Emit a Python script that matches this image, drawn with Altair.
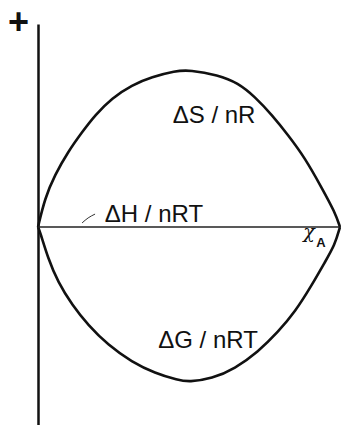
import altair as alt
import pandas as pd

# Mole fraction of A and the mixing functions (dimensionless)
x_s = [0, 0.023, 0.056, 0.099, 0.146, 0.189, 0.245, 0.311, 0.377, 0.454, 0.503,
       0.596, 0.662, 0.719, 0.775, 0.828, 0.884, 0.940, 0.983, 1.0]
ds_nr = [0, 0.128, 0.230, 0.331, 0.419, 0.494, 0.569, 0.627, 0.662, 0.689, 0.693,
         0.671, 0.636, 0.574, 0.494, 0.406, 0.305, 0.172, 0.066, 0]

x_g = [0, 0.007, 0.033, 0.066, 0.113, 0.166, 0.232, 0.311, 0.387, 0.464, 0.500,
       0.576, 0.652, 0.728, 0.795, 0.851, 0.907, 0.950, 0.983, 1.0]
dg_nrt = [0, -0.022, -0.137, -0.243, -0.344, -0.433, -0.521, -0.596, -0.645, -0.676, -0.684,
          -0.670, -0.625, -0.552, -0.463, -0.375, -0.256, -0.155, -0.079, 0]

# Enthalpy of mixing is zero for an ideal solution
x_h = [0, 1.0]
dh_nrt = [0, 0]

labels = ["ΔS / nR", "ΔH / nRT", "ΔG / nRT"]
label_x = [0.583, 0.384, 0.563]
label_y = [0.459, 0.022, -0.534]

Y_DOMAIN = [-0.874, 0.896]
FONT = "Liberation Sans"

xs = alt.Scale(domain=[0, 1], nice=False, zero=False)
ys = alt.Scale(domain=Y_DOMAIN, nice=False, zero=False)

curves = pd.DataFrame({
    "x": x_s + x_g,
    "y": ds_nr + dg_nrt,
    "curve": ["S"] * len(x_s) + ["G"] * len(x_g),
})

base_y_axis = alt.Axis(
    domain=True, domainColor="#111", domainWidth=2.5, ticks=False, labels=False,
    grid=False, title="+", titleAngle=0, titleX=-20, titleY=-2,
    titleFontSize=36, titleFontWeight="bold", titleAlign="center",
    titleBaseline="middle", titleColor="#111", titleFont=FONT,
)

lines = alt.Chart(curves).mark_line(
    color="#111", strokeWidth=2.6, interpolate="basis", clip=False
).encode(
    x=alt.X("x:Q", scale=xs, axis=None),
    y=alt.Y("y:Q", scale=ys, axis=base_y_axis),
    detail="curve:N",
)

hline = alt.Chart(pd.DataFrame({"x": x_h, "y": dh_nrt})).mark_line(
    color="#222", strokeWidth=1.4
).encode(x=alt.X("x:Q", scale=xs), y=alt.Y("y:Q", scale=ys))

text = alt.Chart(pd.DataFrame({"t": labels, "x": label_x, "y": label_y})).mark_text(
    font=FONT, fontSize=24, color="#111", align="center", baseline="alphabetic"
).encode(x=alt.X("x:Q", scale=xs), y=alt.Y("y:Q", scale=ys), text="t:N")

# Small leader stroke next to the ΔH label
leader = alt.Chart(pd.DataFrame({"x": [0.146, 0.166, 0.189], "y": [0.018, 0.040, 0.057]})).mark_line(
    color="#333", strokeWidth=1.0, interpolate="monotone"
).encode(x=alt.X("x:Q", scale=xs), y=alt.Y("y:Q", scale=ys))

# Axis symbol χ_A at the right end of the composition axis
chi = alt.Chart(pd.DataFrame({"t": ["χ"], "x": [0.897], "y": [-0.049]})).mark_text(
    font="DejaVu Serif", fontSize=19, fontStyle="italic", color="#111",
    align="center", baseline="alphabetic"
).encode(x=alt.X("x:Q", scale=xs), y=alt.Y("y:Q", scale=ys), text="t:N")

sub_a = alt.Chart(pd.DataFrame({"t": ["A"], "x": [0.937], "y": [-0.088]})).mark_text(
    font=FONT, fontSize=13, fontWeight="bold", color="#111",
    align="center", baseline="alphabetic"
).encode(x=alt.X("x:Q", scale=xs), y=alt.Y("y:Q", scale=ys), text="t:N")

chart = alt.layer(lines, hline, leader, text, chi, sub_a).properties(
    width=302, height=401,
    padding={"left": 38, "top": 24, "right": 1, "bottom": 0},
    autosize=alt.AutoSizeParams(type="none"),
    background="white",
).configure_view(stroke=None)

chart.save("out.html", embed_options={"renderer": "svg", "actions": False})
